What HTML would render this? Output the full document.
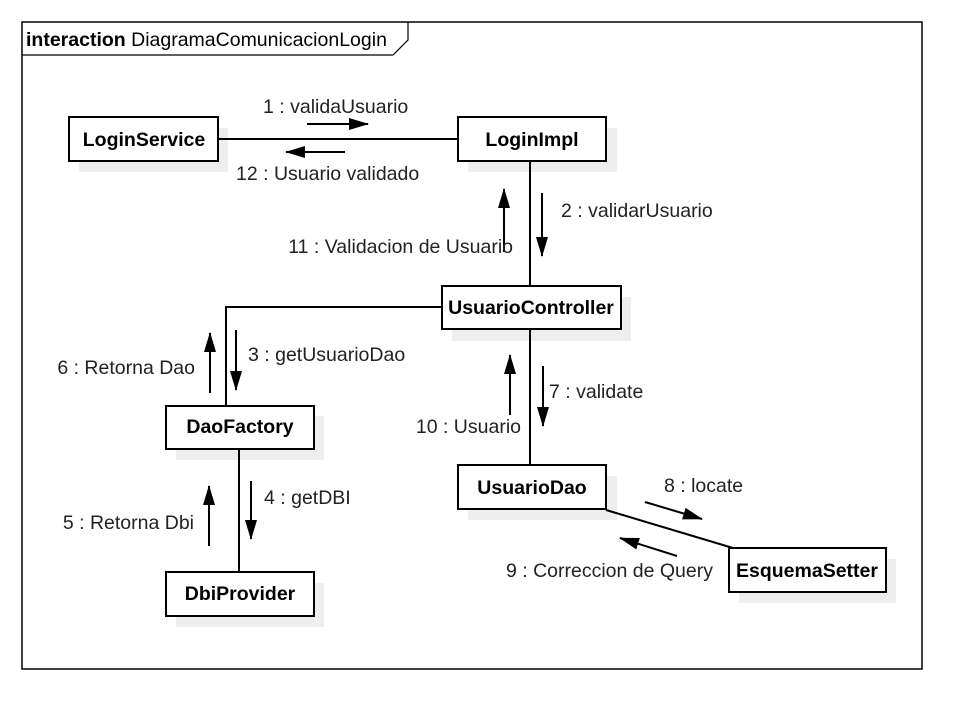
<!DOCTYPE html>
<html><head><style>body{margin:0;background:#fff}</style></head><body>
<svg width="975" height="723" xmlns="http://www.w3.org/2000/svg" font-family="Liberation Sans, sans-serif" font-size="19.5">
<defs><marker id="b" markerWidth="20" markerHeight="12" refX="19" refY="6" orient="auto" markerUnits="userSpaceOnUse"><path d="M0,0 L20,6 L0,12 z" fill="#000"/></marker></defs>
<rect x="22" y="22" width="900" height="647" fill="#fff" stroke="#000" stroke-width="1.5"/>
<path d="M22,55 H393 L408,40 V22" fill="none" stroke="#000" stroke-width="1.2"/>
<text x="26" y="46"><tspan font-weight="bold">interaction</tspan> DiagramaComunicacionLogin</text>
<g fill="#eee">
<rect x="79" y="128" width="149" height="44"/><rect x="468" y="128" width="149" height="44"/>
<rect x="452" y="297" width="179" height="44"/><rect x="176" y="416" width="148" height="44"/>
<rect x="468" y="476" width="149" height="44"/><rect x="176" y="583" width="148" height="44"/>
<rect x="739" y="559" width="157" height="44"/></g>
<g stroke="#000" stroke-width="2" fill="none">
<line x1="218" y1="139" x2="458" y2="139"/><line x1="530" y1="161" x2="530" y2="286"/>
<polyline points="442,307 226,307 226,406"/><line x1="530" y1="329" x2="530" y2="465"/>
<line x1="239" y1="449" x2="239" y2="572"/><line x1="606" y1="510" x2="733" y2="548"/>
</g>
<g stroke="#000" stroke-width="2">
<line x1="307" y1="124" x2="368" y2="124" marker-end="url(#b)"/>
<line x1="345" y1="152" x2="286" y2="152" marker-end="url(#b)"/>
<line x1="542" y1="193" x2="542" y2="256" marker-end="url(#b)"/>
<line x1="504" y1="252" x2="504" y2="189" marker-end="url(#b)"/>
<line x1="236" y1="330" x2="236" y2="390" marker-end="url(#b)"/>
<line x1="210" y1="393" x2="210" y2="333" marker-end="url(#b)"/>
<line x1="543" y1="366" x2="543" y2="426" marker-end="url(#b)"/>
<line x1="510" y1="415" x2="510" y2="355" marker-end="url(#b)"/>
<line x1="251" y1="481" x2="251" y2="539" marker-end="url(#b)"/>
<line x1="209" y1="546" x2="209" y2="486" marker-end="url(#b)"/>
<line x1="645" y1="502" x2="702" y2="519" marker-end="url(#b)"/>
<line x1="677" y1="556" x2="620" y2="538" marker-end="url(#b)"/>
</g>
<g fill="#fff" stroke="#000" stroke-width="2">
<rect x="69" y="117" width="149" height="44"/><rect x="458" y="117" width="148" height="44"/>
<rect x="442" y="286" width="179" height="43"/><rect x="166" y="406" width="148" height="43"/>
<rect x="458" y="465" width="148" height="44"/><rect x="166" y="572" width="148" height="44"/>
<rect x="729" y="548" width="157" height="44"/></g>
<g font-weight="bold" text-anchor="middle">
<text x="144" y="146">LoginService</text><text x="532" y="146">LoginImpl</text>
<text x="531" y="314">UsuarioController</text><text x="240" y="433">DaoFactory</text>
<text x="532" y="494">UsuarioDao</text><text x="240" y="600">DbiProvider</text>
<text x="807" y="577">EsquemaSetter</text></g>
<g fill="#222">
<text x="263" y="113">1 : validaUsuario</text>
<text x="236" y="180">12 : Usuario validado</text>
<text x="561" y="217">2 : validarUsuario</text>
<text x="513" y="253" text-anchor="end">11 : Validacion de Usuario</text>
<text x="248" y="361">3 : getUsuarioDao</text>
<text x="195" y="374" text-anchor="end">6 : Retorna Dao</text>
<text x="549" y="398">7 : validate</text>
<text x="521" y="433" text-anchor="end">10 : Usuario</text>
<text x="264" y="504">4 : getDBI</text>
<text x="194" y="529" text-anchor="end">5 : Retorna Dbi</text>
<text x="664" y="492">8 : locate</text>
<text x="713" y="577" text-anchor="end">9 : Correccion de Query</text>
</g>
</svg>
</body></html>
